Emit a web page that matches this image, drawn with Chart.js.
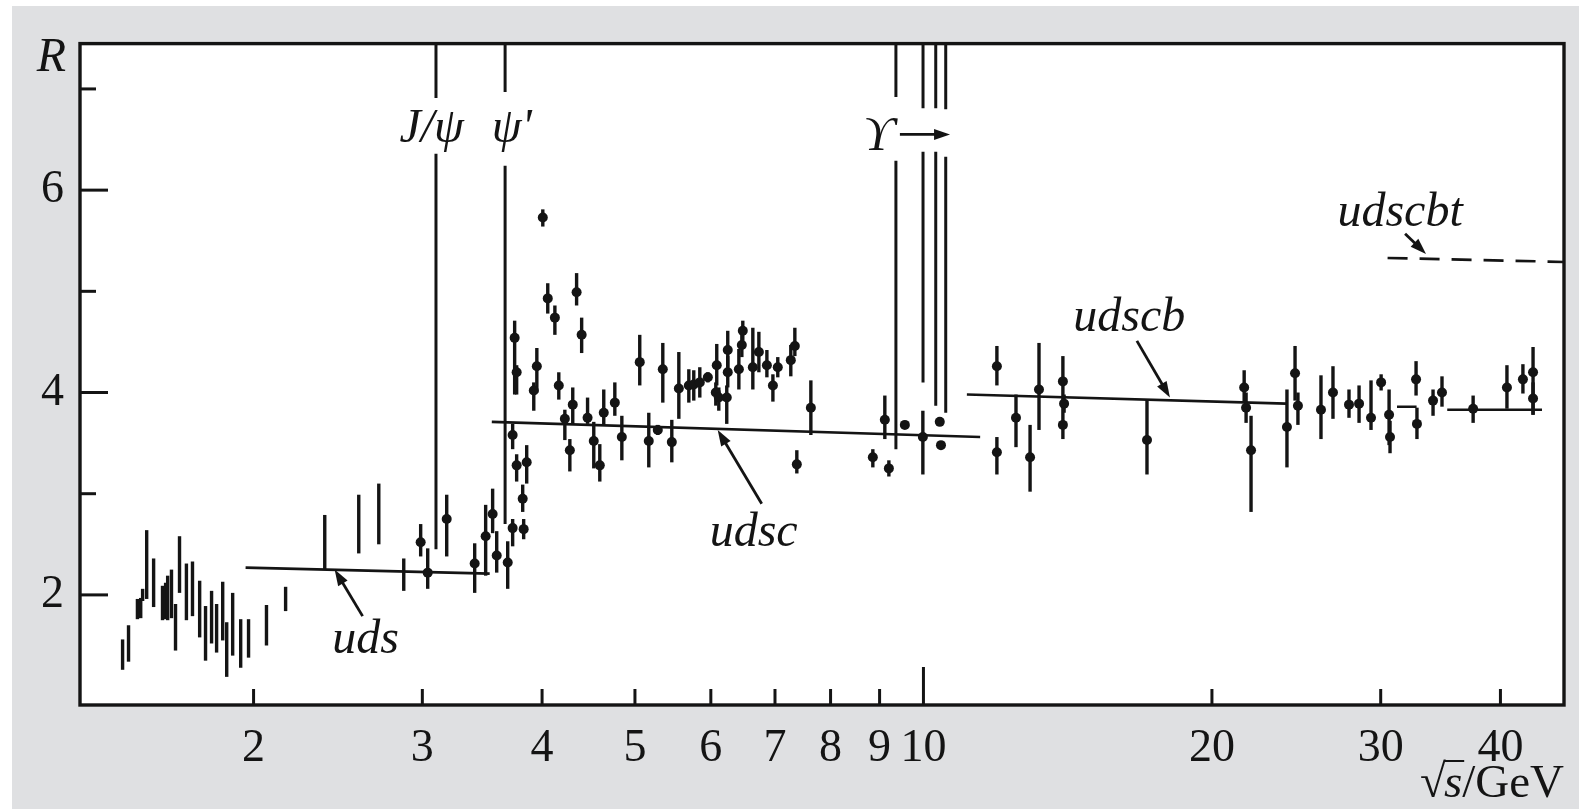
<!DOCTYPE html>
<html>
<head>
<meta charset="utf-8">
<script src="https://cdn.jsdelivr.net/npm/chart.js@4.4.1/dist/chart.umd.min.js"></script>
<style>
  html, body { margin: 0; padding: 0; background: #fff; }
  canvas { display: block; }
</style>
</head>
<body>
<canvas id="r-chart" width="1579" height="809"></canvas>
<script>
// R = sigma(e+e- -> hadrons) / sigma(e+e- -> mu+mu-) against sqrt(s)

const X_MIN = 1.318, X_MAX = 46.6;
const Y_MIN = 0.912, Y_MAX = 7.448;

const xTickValues = [2, 3, 4, 5, 6, 7, 8, 9, 10, 20, 30, 40];
const yTickLabels = [2, 4, 6];
const yTickMinor = [3, 5, 7];

// early measurements, bare error bars (GeV, R, +-err)
const barEnergy = [1.460, 1.481, 1.513, 1.525, 1.532, 1.547, 1.573, 1.607, 1.619, 1.627,
  1.642, 1.658, 1.674, 1.702, 1.727, 1.757, 1.782, 1.808, 1.830, 1.857,
  1.875, 1.902, 1.939, 1.976, 2.063, 2.160, 2.373, 2.575, 2.702, 2.869];
const barR = [1.41, 1.52, 1.86, 1.87, 2.00, 2.30, 2.12, 1.92, 1.94, 1.97,
  2.01, 1.68, 2.30, 2.03, 2.06, 1.86, 1.62, 1.78, 1.67, 1.84,
  1.46, 1.71, 1.52, 1.57, 1.70, 1.96, 2.52, 2.70, 2.80, 2.20];
const barErr = [0.15, 0.18, 0.10, 0.10, 0.06, 0.34, 0.24, 0.17, 0.18, 0.22,
  0.24, 0.23, 0.28, 0.28, 0.27, 0.28, 0.27, 0.26, 0.24, 0.29,
  0.27, 0.31, 0.24, 0.19, 0.20, 0.12, 0.27, 0.29, 0.30, 0.16];

// measurements with a marker (GeV, R, lower end, upper end)
const dotEnergy = [2.988, 3.039, 3.181, 3.402, 3.493, 3.552, 3.587, 3.683, 3.727, 3.727,
  3.745, 3.763, 3.763, 3.818, 3.827, 3.855, 3.921, 3.950, 4.007, 4.055,
  4.125, 4.164, 4.225, 4.276, 4.306, 4.346, 4.399, 4.462, 4.529, 4.595,
  4.639, 4.764, 4.845, 5.058, 5.169, 5.282, 5.346, 5.463, 5.556, 5.691,
  5.759, 5.843, 5.957, 6.086, 6.072, 6.116, 6.234, 6.249, 6.249, 6.418,
  6.464, 6.479, 6.637, 6.734, 6.865, 6.965, 7.047, 7.271, 7.342, 7.377,
  7.630, 8.855, 9.114, 9.203, 9.563, 9.986, 10.40, 10.43, 11.93, 11.93,
  12.49, 12.92, 13.20, 13.98, 14.02, 13.98, 17.11, 21.61, 21.71, 21.97,
  23.95, 24.42, 24.59, 25.99, 26.75, 27.80, 28.48, 29.31, 30.03, 30.61,
  30.68, 32.66, 32.73, 34.02, 34.76, 37.46, 40.63, 42.22, 43.26, 43.26];
const dotR = [2.52, 2.22, 2.75, 2.31, 2.58, 2.80, 2.39, 2.32, 2.66, 3.58,
  4.54, 4.20, 3.28, 2.95, 2.65, 3.31, 4.02, 4.26, 5.73, 4.93,
  4.74, 4.07, 3.74, 3.43, 3.88, 4.99, 4.57, 3.75, 3.52, 3.28,
  3.80, 3.90, 3.56, 4.30, 3.52, 3.63, 4.23, 3.51, 4.04, 4.07,
  4.08, 4.10, 4.15, 4.27, 4.00, 3.95, 3.95, 4.42, 4.20, 4.23,
  4.47, 4.61, 4.25, 4.40, 4.27, 4.07, 4.25, 4.32, 4.46, 3.29,
  3.85, 3.36, 3.73, 3.25, 3.68, 3.56, 3.71, 3.48, 4.26, 3.41,
  3.75, 3.36, 4.03, 4.11, 3.89, 3.68, 3.53, 4.05, 3.85, 3.43,
  3.66, 4.19, 3.87, 3.83, 4.00, 3.88, 3.89, 3.75, 4.10, 3.78,
  3.56, 4.13, 3.69, 3.92, 4.00, 3.84, 4.05, 4.13, 4.20, 3.94];
const dotLow = [2.38, 2.06, 2.38, 2.02, 2.19, 2.61, 2.22, 2.06, 2.48, 3.44,
  3.98, 3.98, 3.12, 2.82, 2.55, 3.10, 3.82, 4.00, 5.64, 4.78,
  4.57, 3.93, 3.53, 3.22, 3.68, 4.86, 4.39, 3.69, 3.25, 3.12,
  3.68, 3.77, 3.33, 4.07, 3.26, 3.58, 3.90, 3.31, 3.74, 3.90,
  3.92, 3.95, 4.10, 4.07, 3.87, 3.82, 3.69, 4.25, 4.05, 4.03,
  4.35, 4.51, 4.03, 4.20, 4.15, 3.91, 4.15, 4.16, 4.36, 3.20,
  3.58, 3.26, 3.54, 3.17, 3.66, 3.19, 3.69, 3.46, 4.07, 3.19,
  3.46, 3.02, 3.63, 3.88, 3.80, 3.54, 3.19, 3.90, 3.70, 2.82,
  3.26, 3.92, 3.68, 3.54, 3.74, 3.75, 3.70, 3.63, 4.02, 3.48,
  3.40, 3.97, 3.54, 3.77, 3.86, 3.70, 3.84, 3.99, 3.78, 3.78];
const dotHigh = [2.70, 2.46, 2.99, 2.51, 2.89, 3.05, 2.63, 2.53, 2.75, 3.69,
  4.71, 4.27, 3.39, 3.09, 2.75, 3.48, 4.10, 4.44, 5.81, 5.08,
  4.86, 4.20, 3.83, 3.54, 4.05, 5.18, 4.74, 3.95, 3.71, 3.49,
  4.03, 4.10, 3.77, 4.57, 3.80, 3.68, 4.49, 3.73, 4.40, 4.23,
  4.22, 4.25, 4.20, 4.48, 4.10, 4.05, 4.07, 4.61, 4.36, 4.43,
  4.58, 4.71, 4.64, 4.60, 4.42, 4.18, 4.35, 4.47, 4.64, 3.43,
  4.12, 3.44, 3.97, 3.33, 3.70, 3.82, 3.73, 3.50, 4.46, 3.56,
  3.98, 3.68, 4.49, 4.36, 3.98, 3.87, 3.93, 4.22, 4.00, 3.77,
  4.03, 4.46, 4.00, 4.17, 4.26, 4.03, 4.07, 4.12, 4.18, 4.03,
  3.72, 4.31, 3.85, 4.03, 4.16, 3.97, 4.27, 4.28, 4.45, 4.10];

// narrow resonances: J/psi, psi', Upsilon(1S..4S); each line is broken around its label
const resonanceEnergy = [3.10, 3.66, 9.36, 9.99, 10.30, 10.55];
const resonanceBreakTop = [6.91, 6.97, 6.92, 6.81, 6.81, 6.80];
const resonanceBreakBottom = [6.36, 6.24, 6.29, 6.38, 6.38, 6.33];
const resonanceFloor = [2.45, 2.70, 3.44, 4.10, 3.87, 3.80];

// quark-parton expectations
const udsEnergy = [1.962, 3.527], udsR = [2.27, 2.21];
const udscEnergy = [3.545, 11.46], udscR = [3.71, 3.56];
const udscbEnergy = [11.1, 23.9, 31.2, 32.7, 35.2, 44.2];
const udscbR = [3.98, 3.89, 3.86, 3.86, 3.83, 3.83];
const udscbtEnergy = [30.5, 46.6], udscbtR = [5.33, 5.29];

// text labels and their pointer arrows
const labelText = ['J/\u03c8', '\u03c8\'', 'uds', 'udsc', 'udscb', 'udscbt'];
const labelEnergy = [3.068, 3.719, 2.618, 6.65, 16.40, 31.43];
const labelR = [6.48, 6.48, 1.43, 2.48, 4.61, 5.65];
const pointerFromE = [2.599, 6.78, 16.70, 31.81], pointerFromR = [1.79, 2.90, 4.51, 5.57];
const pointerToE = [2.43, 6.10, 18.08, 33.45], pointerToR = [2.25, 3.63, 3.95, 5.37];
const upsilonLabel = { text: '\u03d2', e: 8.98, r: 6.40, arrowFrom: 9.45, arrowTo: 10.66, arrowR: 6.55 };

const INK = '#141414';
const SERIF = '"Liberation Serif", "DejaVu Serif", serif';

function pairs(xs, ys) {
  return xs.map((x, i) => ({ x, y: ys[i] }));
}

// pairs of points -> separate segments split by gaps
function segments(xs, ys) {
  const out = [];
  for (let i = 0; i < xs.length; i += 2) {
    if (i > 0) out.push({ x: (xs[i - 1] + xs[i]) / 2, y: null });
    out.push({ x: xs[i], y: ys[i] }, { x: xs[i + 1], y: ys[i + 1] });
  }
  return out;
}

const barData = barEnergy.map((x, i) => ({ x, y: barR[i], lo: barR[i] - barErr[i], hi: barR[i] + barErr[i] }));
const dotData = dotEnergy.map((x, i) => ({ x, y: dotR[i], lo: dotLow[i], hi: dotHigh[i] }));

const resonanceData = [];
resonanceEnergy.forEach((e, i) => {
  if (i > 0) resonanceData.push({ x: (resonanceEnergy[i - 1] + e) / 2, y: null });
  resonanceData.push({ x: e, y: Y_MAX }, { x: e, y: resonanceBreakTop[i] }, { x: e, y: null },
    { x: e, y: resonanceBreakBottom[i] }, { x: e, y: resonanceFloor[i] });
});

function lineSet(data, extra) {
  return Object.assign({
    data, showLine: true, spanGaps: false, pointRadius: 0,
    borderColor: INK, borderWidth: 2.6, fill: false
  }, extra || {});
}

const frame = {
  id: 'frame',
  beforeDraw(chart) {
    const { ctx, chartArea: a, width, height } = chart;
    ctx.save();
    ctx.fillStyle = '#fff';
    ctx.fillRect(0, 0, width, height);
    ctx.fillStyle = '#dfe0e2';
    ctx.fillRect(12, 6, width - 12, height - 6);
    ctx.fillStyle = '#fff';
    ctx.fillRect(a.left, a.top, a.right - a.left, a.bottom - a.top);
    ctx.restore();
  },
  beforeDatasetsDraw(chart) {
    // error bars under the markers
    const { ctx } = chart;
    const ys = chart.scales.y;
    ctx.save();
    ctx.strokeStyle = INK;
    ctx.lineCap = 'butt';
    [0, 1].forEach(di => {
      const meta = chart.getDatasetMeta(di);
      ctx.lineWidth = 3.4;
      chart.data.datasets[di].data.forEach((p, i) => {
        const px = meta.data[i].x;
        ctx.beginPath();
        ctx.moveTo(px, ys.getPixelForValue(p.lo));
        ctx.lineTo(px, ys.getPixelForValue(p.hi));
        ctx.stroke();
      });
    });
    ctx.restore();
  },
  afterDraw(chart) {
    const { ctx, chartArea: a } = chart;
    const xs = chart.scales.x, ys = chart.scales.y;
    ctx.save();
    ctx.strokeStyle = INK;
    ctx.fillStyle = INK;

    // ticks pointing into the plot
    ctx.lineWidth = 3;
    xTickValues.forEach(v => {
      const px = xs.getPixelForValue(v);
      const len = v === 10 ? 38 : 16;
      ctx.beginPath(); ctx.moveTo(px, a.bottom); ctx.lineTo(px, a.bottom - len); ctx.stroke();
    });
    yTickLabels.concat(yTickMinor).forEach(v => {
      const py = ys.getPixelForValue(v);
      const len = yTickLabels.includes(v) ? 28 : 16;
      ctx.beginPath(); ctx.moveTo(a.left, py); ctx.lineTo(a.left + len, py); ctx.stroke();
    });
    ctx.lineWidth = 3.4;
    ctx.strokeRect(a.left, a.top, a.right - a.left, a.bottom - a.top);

    // labels
    ctx.font = 'italic 48px ' + SERIF;
    ctx.textAlign = 'center';
    ctx.textBaseline = 'alphabetic';
    labelText.forEach((t, i) => {
      ctx.fillText(t, xs.getPixelForValue(labelEnergy[i]), ys.getPixelForValue(labelR[i]));
    });
    ctx.fillText(upsilonLabel.text, xs.getPixelForValue(upsilonLabel.e), ys.getPixelForValue(upsilonLabel.r));
    arrow(ctx, xs.getPixelForValue(upsilonLabel.arrowFrom), ys.getPixelForValue(upsilonLabel.arrowR),
      xs.getPixelForValue(upsilonLabel.arrowTo), ys.getPixelForValue(upsilonLabel.arrowR), 2.8);

    pointerFromE.forEach((e, i) => {
      arrow(ctx, xs.getPixelForValue(e), ys.getPixelForValue(pointerFromR[i]),
        xs.getPixelForValue(pointerToE[i]), ys.getPixelForValue(pointerToR[i]), 2.8);
    });

    // axis titles
    ctx.font = 'italic 48px ' + SERIF;
    ctx.textAlign = 'right';
    ctx.textBaseline = 'middle';
    ctx.fillText('R', a.left - 14, ys.getPixelForValue(7.3));

    ctx.textAlign = 'left';
    ctx.textBaseline = 'alphabetic';
    const base = 797;
    ctx.font = '47px ' + SERIF;
    const wUnit = ctx.measureText('/GeV').width;
    ctx.fillText('/GeV', a.right - wUnit, base);
    ctx.font = 'italic 47px ' + SERIF;
    const wS = ctx.measureText('s').width;
    const sx = a.right - wUnit - wS;
    ctx.fillText('s', sx, base);
    ctx.font = '47px ' + SERIF;
    const wRad = ctx.measureText('\u221a').width;
    ctx.fillText('\u221a', sx - wRad + 2, base);
    ctx.fillRect(sx, base - 37, wS + 2, 2);
    ctx.restore();
  }
};

function arrow(ctx, x1, y1, x2, y2, w) {
  const ang = Math.atan2(y2 - y1, x2 - x1);
  const head = 16, half = 5.5;
  ctx.lineWidth = w;
  ctx.beginPath();
  ctx.moveTo(x1, y1);
  ctx.lineTo(x2 - Math.cos(ang) * head * 0.8, y2 - Math.sin(ang) * head * 0.8);
  ctx.stroke();
  ctx.beginPath();
  ctx.moveTo(x2, y2);
  ctx.lineTo(x2 - Math.cos(ang) * head + Math.sin(ang) * half, y2 - Math.sin(ang) * head - Math.cos(ang) * half);
  ctx.lineTo(x2 - Math.cos(ang) * head - Math.sin(ang) * half, y2 - Math.sin(ang) * head + Math.cos(ang) * half);
  ctx.closePath();
  ctx.fill();
}

new Chart(document.getElementById('r-chart').getContext('2d'), {
  type: 'scatter',
  data: {
    datasets: [
      { label: 'bars', data: barData, pointRadius: 0, borderColor: INK, backgroundColor: INK },
      { label: 'points', data: dotData, pointRadius: 5, borderWidth: 0, backgroundColor: INK },
      lineSet(resonanceData, { borderWidth: 3 }),
      lineSet(pairs(udsEnergy, udsR)),
      lineSet(pairs(udscEnergy, udscR)),
      lineSet(segments(udscbEnergy, udscbR)),
      lineSet(pairs(udscbtEnergy, udscbtR), { borderDash: [20, 12] })
    ]
  },
  options: {
    responsive: false,
    animation: false,
    events: [],
    layout: { padding: { left: 0, right: 15, top: 40, bottom: 0 } },
    plugins: { legend: { display: false }, tooltip: { enabled: false } },
    scales: {
      x: {
        type: 'logarithmic',
        min: X_MIN,
        max: X_MAX,
        grid: { display: false, drawTicks: false },
        border: { display: false },
        afterBuildTicks: s => { s.ticks = xTickValues.map(v => ({ value: v })); },
        afterFit: s => { s.height = 104; },
        ticks: {
          autoSkip: false, maxRotation: 0, padding: 16, color: INK,
          font: { family: SERIF, size: 46 },
          callback: v => String(v)
        }
      },
      y: {
        min: Y_MIN,
        max: Y_MAX,
        grid: { display: false, drawTicks: false },
        border: { display: false },
        afterBuildTicks: s => { s.ticks = yTickLabels.map(v => ({ value: v })); },
        afterFit: s => { s.width = 80; },
        ticks: {
          padding: 16, color: INK,
          font: { family: SERIF, size: 46 },
          callback: v => String(v)
        }
      }
    }
  },
  plugins: [frame]
});
</script>
</body>
</html>
